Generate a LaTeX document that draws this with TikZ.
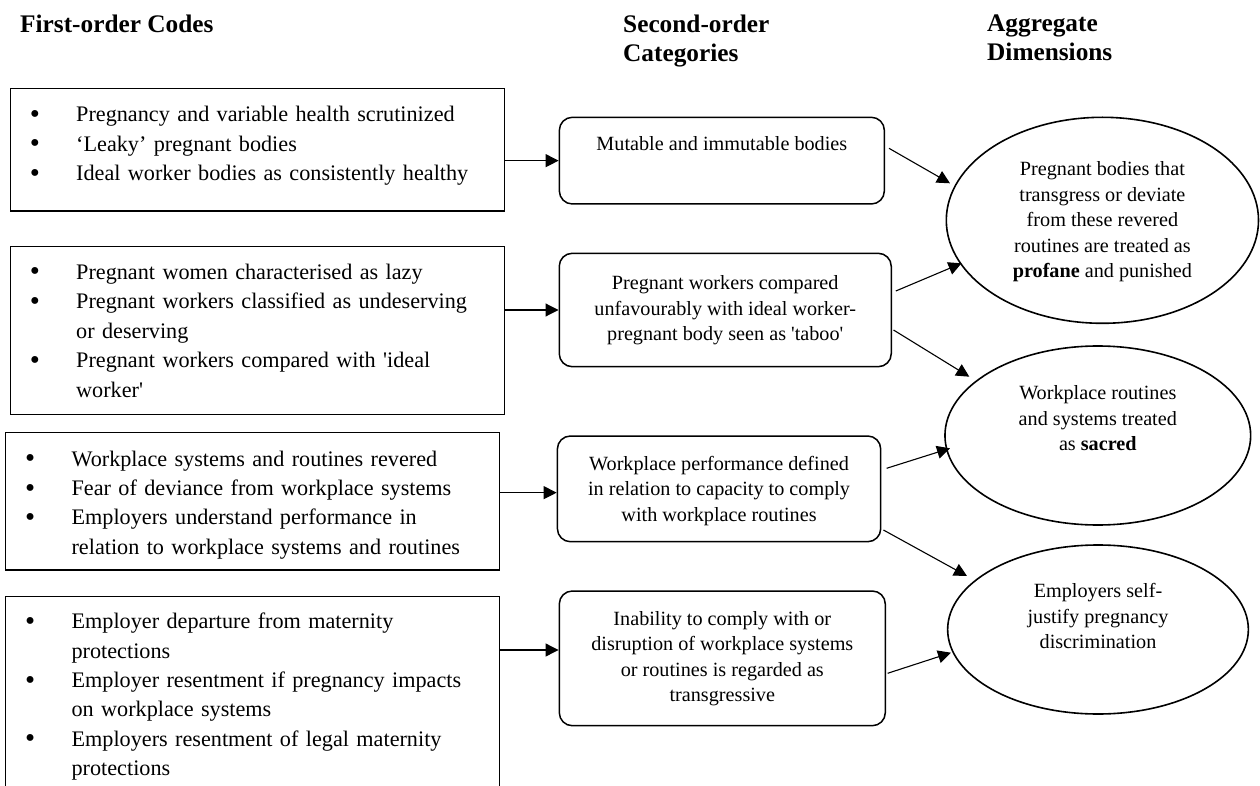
\documentclass[tikz,border=0pt]{standalone}
\usepackage{graphicx}
\usepackage{fontspec}
\setmainfont{Liberation Serif}
\usetikzlibrary{arrows.meta,shapes.geometric}
\newlength{\bhang}
\setlength{\bhang}{50pt}
\newcommand{\bmark}{\raisebox{-1.5pt}{\scalebox{1.3}{\textbullet}}}
\newcommand{\bitem}[1]{\par\noindent\hangindent=\bhang\hangafter=1\makebox[\bhang][l]{\hspace{3.6pt}\bmark}\strut#1\strut\par}
\begin{document}
\begin{tikzpicture}[x=1pt,y=-1pt,
  codebox/.style={draw, line width=1.5pt, rectangle, inner sep=0pt},
  codetext/.style={inner sep=0pt, text width=470pt, align=left, font=\fontsize{22.2}{29.4}\selectfont, anchor=west},
  catbox/.style={draw, line width=1.5pt, rectangle, rounded corners=13pt, inner sep=0pt, align=center, font=\fontsize{20.2}{25.5}\selectfont},
  dimell/.style={draw, line width=1.6pt, ellipse, inner sep=0pt},
  dimtext/.style={inner sep=0pt, align=center, font=\fontsize{20.2}{25.5}\selectfont},
  head/.style={inner sep=0pt, anchor=north west, align=left, font=\bfseries\fontsize{25.3}{28.7}\selectfont},
  arr/.style={-{Triangle[length=13pt,width=13pt]}, line width=1.1pt},
]
\useasboundingbox (0,0) rectangle (1260,786);
\clip (0,0) rectangle (1260,786);

% headers
\node[head] (h1) at (20,14.3) {First-order Codes};
\node[head] (h2) at (623,14.6) {Second-order\\Categories};
\node[head] (h3) at (987,14.6) {Aggregate\\Dimensions};

% first-order boxes
\node[codebox, minimum width=493.9pt, minimum height=122.7pt] (c1) at (257.65,149.65) {};
\node[codebox, minimum width=493.9pt, minimum height=167.6pt] (c2) at (257.65,330.5) {};
\node[codebox, minimum width=493.9pt, minimum height=137.3pt] (c3) at (252.35,501.35) {};
\node[codebox, minimum width=493.9pt, minimum height=196.2pt] (c4) at (252.35,694.5) {};

\node[codetext] (c1t) at (26,141) {\bitem{Pregnancy and variable health scrutinized}\bitem{‘Leaky’ pregnant bodies}\bitem{Ideal worker bodies as consistently healthy}};
\node[codetext] (c2t) at (26,328) {\bitem{Pregnant women characterised as lazy}\bitem{Pregnant workers classified as undeserving\newline or deserving}\bitem{Pregnant workers compared with \textquotesingle ideal\newline worker\textquotesingle}};
\node[codetext] (c3t) at (21.4,500) {\bitem{Workplace systems and routines revered}\bitem{Fear of deviance from workplace systems}\bitem{Employers understand performance in\newline relation to workplace systems and routines}};
\node[codetext] (c4t) at (21.4,692) {\bitem{Employer departure from maternity\newline protections}\bitem{Employer resentment if pregnancy impacts\newline on workplace systems}\bitem{Employers resentment of legal maternity\newline protections}};

% second-order boxes
\node[catbox, minimum width=325pt, minimum height=86.7pt] (m1) at (721.85,160.65) {};
\node[dimtext] (m1t) at (721.85,145) {\strut Mutable and immutable bodies\strut};
\node[catbox, minimum width=332pt, minimum height=113.4pt] (m2) at (725.25,310) {\strut Pregnant workers compared\\unfavourably with ideal worker-\\pregnant body seen as \textquotesingle taboo\textquotesingle\strut};
\node[catbox, minimum width=323.3pt, minimum height=105.7pt] (m3) at (719.05,488.85) {};
\node[dimtext] (m3t) at (719.05,490.5) {\strut Workplace performance defined\\in relation to capacity to comply\\with workplace routines\strut};
\node[catbox, minimum width=326pt, minimum height=134.7pt] (m4) at (722.3,658.35) {\strut Inability to comply with or\\disruption of workplace systems\\or routines is regarded as\\transgressive\strut};

% aggregate dimensions
\node[dimell, minimum width=312.2pt, minimum height=206pt] (e1) at (1102.4,220.3) {};
\node[dimtext] (e1t) at (1102.4,221.5) {\strut Pregnant bodies that\\transgress or deviate\\from these revered\\routines are treated as\\\textbf{profane} and punished\strut};
\node[dimell, minimum width=305.7pt, minimum height=179pt] (e2) at (1097.8,435.5) {};
\node[dimtext] (e2t) at (1097.8,420.3) {\strut Workplace routines\\and systems treated\\as \textbf{sacred}\strut};
\node[dimell, minimum width=300.7pt, minimum height=169pt] (e3) at (1098,629.5) {};
\node[dimtext] (e3t) at (1098,618.3) {\strut Employers self-\\justify pregnancy\\discrimination\strut};

% horizontal connectors
\coordinate (a3) at ([yshift=-3.8pt]m3.west);
\coordinate (a4) at ([yshift=8.35pt]m4.west);
\draw[arr] (c1.east |- m1.west) -- (m1.west);
\draw[arr] (c2.east |- m2.west) -- (m2.west);
\draw[arr] (c3.east |- a3) -- (a3);
\draw[arr] (c4.east |- a4) -- (a4);

% diagonal connectors
\draw[arr] ([shift={(167.15,-12.35)}]m1.center) -- ([shift={(-152.4,-37)}]e1.center);
\draw[arr] ([shift={(170.55,-19)}]m2.center) -- ([shift={(-140.9,43)}]e1.center);
\draw[arr] ([shift={(168.25,20)}]m2.center) -- ([shift={(-128.5,-58.8)}]e2.center);
\draw[arr] ([shift={(167.55,-20.55)}]m3.center) -- ([shift={(-147.8,12.8)}]e2.center);
\draw[arr] ([shift={(164.35,41.15)}]m3.center) -- ([shift={(-131,-53.5)}]e3.center);
\draw[arr] ([shift={(165.3,14.95)}]m4.center) -- ([shift={(-147,23.2)}]e3.center);
\end{tikzpicture}
\end{document}
